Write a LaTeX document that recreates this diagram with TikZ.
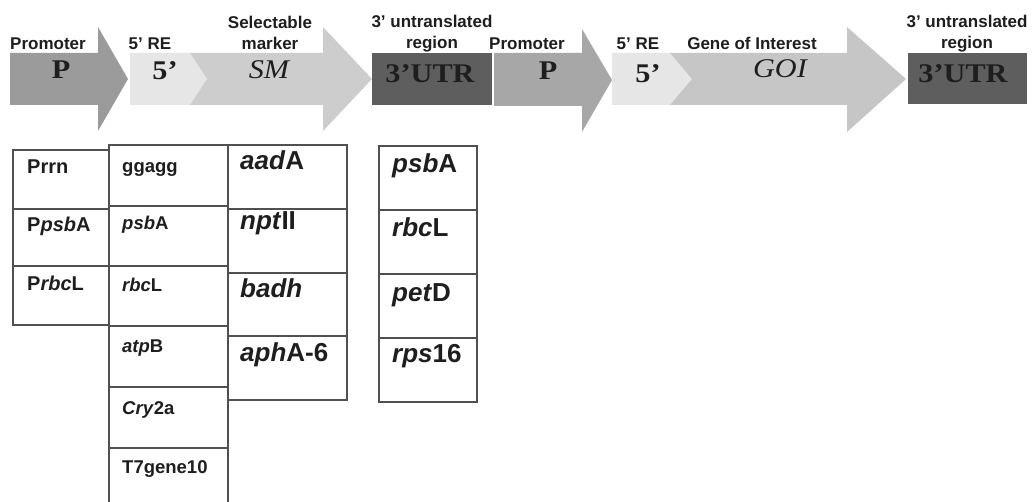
\documentclass[tikz,border=0pt]{standalone}
\usepackage{fontspec}
\setmainfont{Liberation Serif}
\setsansfont{Liberation Sans}
\definecolor{promA}{HTML}{9B9B9B}
\definecolor{promB}{HTML}{A7A7A7}
\definecolor{reg}{HTML}{E6E6E6}
\definecolor{smk}{HTML}{CDCDCD}
\definecolor{goi}{HTML}{C6C6C6}
\definecolor{utr}{HTML}{5E5E5E}
\definecolor{ink}{HTML}{1E1E1E}
\definecolor{rule}{HTML}{505050}
\tikzset{
  hdr/.style={font=\sffamily\bfseries\fontsize{17bp}{19bp}\selectfont, text=ink, inner sep=0pt, anchor=base},
  big/.style={font=\bfseries\fontsize{27bp}{30bp}\selectfont, text=ink, inner sep=0pt, anchor=base, xscale=1.12},
  bigit/.style={font=\itshape\fontsize{27bp}{30bp}\selectfont, text=ink, inner sep=0pt, anchor=base, xscale=1.12},
  cell/.style={draw=rule, line width=1.2pt, inner sep=0pt, outer sep=0pt, anchor=north west},
  txA/.style={font=\sffamily\bfseries\fontsize{20bp}{22bp}\selectfont, text=ink, inner sep=0pt, anchor=base west},
  txB/.style={font=\sffamily\bfseries\fontsize{18.5bp}{21bp}\selectfont, text=ink, inner sep=0pt, anchor=base west},
  txC/.style={font=\sffamily\bfseries\fontsize{26bp}{28bp}\selectfont, text=ink, inner sep=0pt, anchor=base west},
}
\begin{document}
\begin{tikzpicture}[x=1bp,y=-1bp]
\useasboundingbox[fill=white] (0,0) rectangle (1033,502);

% ---- construct: block arrows ----
\fill[promA] (10,53) -- (98,53) -- (98,27) -- (128,79) -- (98,131) -- (98,105) -- (10,105) -- cycle;
\fill[reg] (130,53) -- (190,53) -- (207,79) -- (190,105) -- (130,105) -- cycle;
\fill[smk] (190,53) -- (323,53) -- (323,27) -- (372,79) -- (323,131) -- (323,105) -- (190,105) -- (207,79) -- cycle;
\fill[utr] (372,53) rectangle (492,105);
\fill[promB] (494,53) -- (582,53) -- (582,29) -- (612,80) -- (582,132) -- (582,106) -- (494,106) -- cycle;
\fill[reg] (612,53) -- (670,53) -- (692,79) -- (670,105) -- (612,105) -- cycle;
\fill[goi] (670,53) -- (847,53) -- (847,27) -- (906,79) -- (847,132) -- (847,105) -- (670,105) -- (692,79) -- cycle;
\fill[utr] (908,53) rectangle (1027,104);

% ---- element labels ----
\node[hdr, anchor=base west] (hP1) at (10,50) {Promoter};
\node[hdr] (hR1) at (150,50) {5' RE};
\node[hdr] (hS1) at (270,29) {Selectable};
\node[hdr] (hS2) at (270,50) {marker};
\node[hdr] (hU1) at (432,28) {3' untranslated};
\node[hdr] (hU2) at (432,49) {region};
\node[hdr] (hP2) at (527,50) {Promoter};
\node[hdr] (hR2) at (638,50) {5' RE};
\node[hdr] (hG) at (752,50) {Gene of Interest};
\node[hdr] (hV1) at (967,28) {3' untranslated};
\node[hdr] (hV2) at (967,49) {region};

\node[big] (bP1) at (61,79) {P};
\node[big] (bR1) at (165,80) {5’};
\node[bigit] (bS) at (269,79) {SM};
\node[big] (bU1) at (430,83) {3’UTR};
\node[big] (bP2) at (548,80) {P};
\node[big] (bR2) at (648,83) {5’};
\node[bigit] (bG) at (780,78) {GOI};
\node[big] (bU2) at (963,83) {3’UTR};

% ---- promoters ----
\node[cell, minimum width=96bp, minimum height=59bp] (a1) at (13,150) {};
\node[cell, minimum width=96bp, minimum height=57bp] (a2) at (13,209) {};
\node[cell, minimum width=96bp, minimum height=59bp] (a3) at (13,266) {};
\node[txA] (ta1) at (27,174) {Prrn};
\node[txA] (ta2) at (27,232) {P\textit{psb}A};
\node[txA] (ta3) at (27,291) {P\textit{rbc}L};

% ---- 5' regulatory elements ----
\node[cell, minimum width=119bp, minimum height=61bp] (b1) at (109,145) {};
\node[cell, minimum width=119bp, minimum height=60bp] (b2) at (109,206) {};
\node[cell, minimum width=119bp, minimum height=60bp] (b3) at (109,266) {};
\node[cell, minimum width=119bp, minimum height=61bp] (b4) at (109,326) {};
\node[cell, minimum width=119bp, minimum height=61bp] (b5) at (109,387) {};
\node[cell, minimum width=119bp, minimum height=64bp] (b6) at (109,448) {};
\node[txB] (tb1) at (122,173) {ggagg};
\node[txB] (tb2) at (122,230) {\textit{psb}A};
\node[txB] (tb3) at (122,292) {\textit{rbc}L};
\node[txB] (tb4) at (122,353) {\textit{atp}B};
\node[txB] (tb5) at (122,414) {\textit{Cry}2a};
\node[txB] (tb6) at (122,473) {T7gene10};

% ---- selectable markers ----
\node[cell, minimum width=119bp, minimum height=64bp] (c1) at (228,145) {};
\node[cell, minimum width=119bp, minimum height=64bp] (c2) at (228,209) {};
\node[cell, minimum width=119bp, minimum height=63bp] (c3) at (228,273) {};
\node[cell, minimum width=119bp, minimum height=64bp] (c4) at (228,336) {};
\node[txC] (tc1) at (240,170) {\textit{aad}A};
\node[txC] (tc2) at (240,230) {\textit{npt}II};
\node[txC] (tc3) at (240,298) {\textit{badh}};
\node[txC] (tc4) at (240,362) {\textit{aph}A-6};

% ---- 3' UTRs ----
\node[cell, minimum width=98bp, minimum height=64bp] (d1) at (379,146) {};
\node[cell, minimum width=98bp, minimum height=64bp] (d2) at (379,210) {};
\node[cell, minimum width=98bp, minimum height=64bp] (d3) at (379,274) {};
\node[cell, minimum width=98bp, minimum height=64bp] (d4) at (379,338) {};
\node[txC] (td1) at (392,173) {\textit{psb}A};
\node[txC] (td2) at (392,237) {\textit{rbc}L};
\node[txC] (td3) at (392,302) {\textit{pet}D};
\node[txC] (td4) at (392,363) {\textit{rps}16};
\end{tikzpicture}
\end{document}
